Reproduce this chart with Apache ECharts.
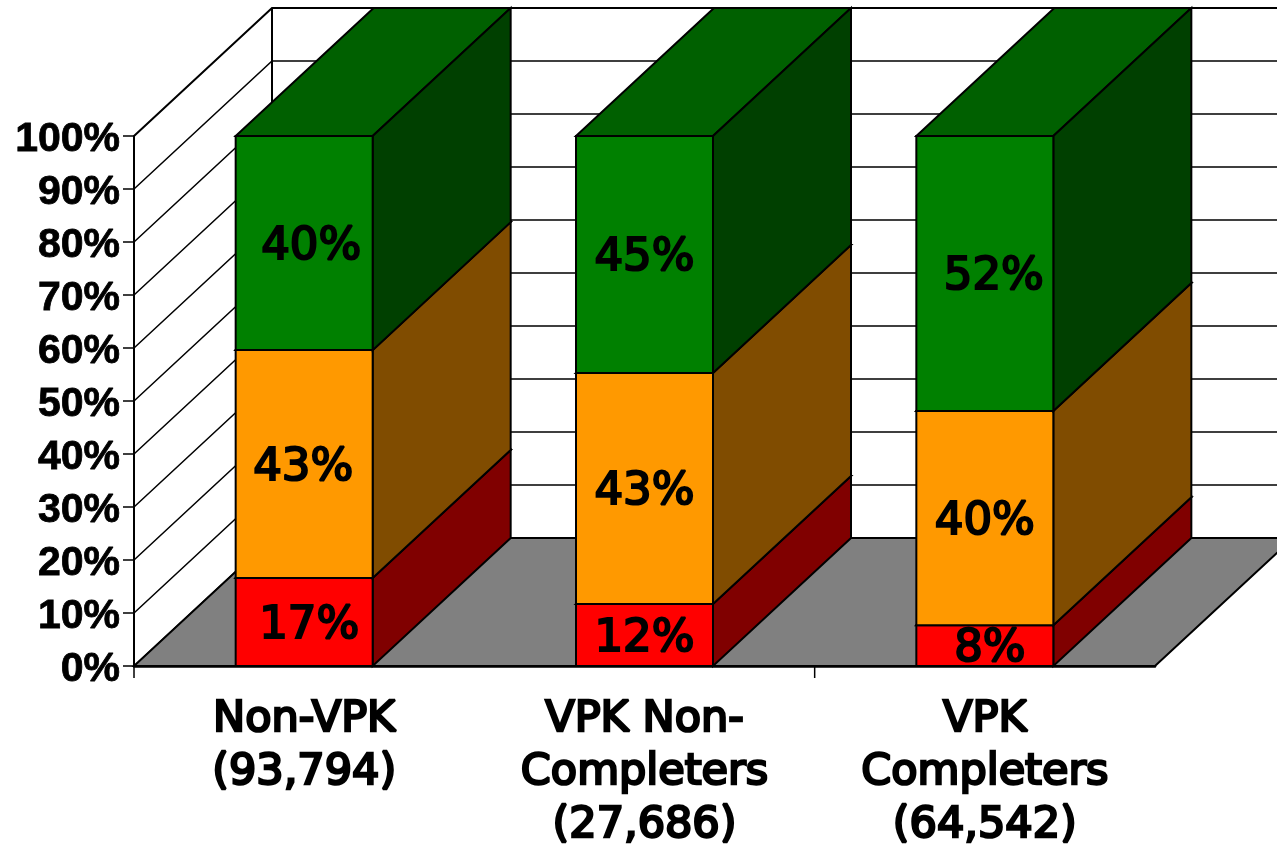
<!DOCTYPE html>
<html>
<head>
<meta charset="utf-8">
<style>
html, body { margin: 0; padding: 0; background: #fff; overflow: hidden; }
#chart { width: 1277px; height: 847px; }
</style>
<script src="https://cdn.jsdelivr.net/npm/echarts@6/dist/echarts.min.js"></script>
</head>
<body>
<div id="chart"></div>
<script>
// 数据
const categories = ['Non-VPK\n(93,794)', 'VPK Non-\nCompleters\n(27,686)', 'VPK\nCompleters\n(64,542)'];
const redValues = [16.6, 11.7, 7.7];
const orangeValues = [43, 43.6, 40.4];
const greenValues = [40.4, 44.7, 51.9];
const redLabels = ['17%', '12%', '8%'];
const orangeLabels = ['43%', '43%', '40%'];
const greenLabels = ['40%', '45%', '52%'];
const tickValues = [0, 10, 20, 30, 40, 50, 60, 70, 80, 90, 100];
const categoryTicks = [0, 2];

// 3D 外观
const DEPTH_X = 138;
const DEPTH_Y = -128;
const BAR_WIDTH = 137;
const labelNudge = [[5, -1, 7], [0, 0, 0], [5, 0, 9]];
const redFaces = { front: '#ff0000', side: '#800000', top: '#c00000' };
const orangeFaces = { front: '#ff9900', side: '#804c00', top: '#c07300' };
const greenFaces = { front: '#008000', side: '#004000', top: '#006000' };

const edge = { stroke: '#000', lineWidth: 2 };

function polygon(points, fill) {
    return { type: 'polygon', shape: { points }, style: { fill, ...edge } };
}

function back(p) {
    return [p[0] + DEPTH_X, p[1] + DEPTH_Y];
}

// 左墙 + 后墙网格线
function renderGridLine(params, api) {
    const a = api.coord([0, api.value(0)]);
    const left = [params.coordSys.x, a[1]];
    const corner = back(left);
    const right = [params.coordSys.x + params.coordSys.width + DEPTH_X, corner[1]];
    return {
        type: 'polyline',
        shape: { points: [left, corner, right] },
        style: { fill: 'none', stroke: '#000', lineWidth: api.value(0) === 100 ? 2 : 1.5 }
    };
}

// 地面
function renderFloor(params, api) {
    const cs = params.coordSys;
    const y0 = api.coord([0, 0])[1];
    const p1 = [cs.x, y0];
    const p2 = [cs.x + cs.width, y0];
    const top = api.coord([0, 100])[1];
    return {
        type: 'group',
        children: [
            polygon([p1, p2, back(p2), back(p1)], '#808080'),
            {
                type: 'line',
                shape: { x1: back(p1)[0], y1: back(p1)[1], x2: back(p1)[0], y2: top + DEPTH_Y },
                style: { stroke: '#000', lineWidth: 2 }
            }
        ]
    };
}

// 类别刻度：只画左边界和第三个类别的左边界
function renderCategoryTick(params, api) {
    const p = api.coord([api.value(0), 0]);
    const x = p[0] - api.size([1, 0])[0] / 2;
    return {
        type: 'line',
        shape: { x1: x, y1: p[1], x2: x, y2: p[1] + 12 },
        style: { stroke: '#000', lineWidth: 1.5 }
    };
}

function stackedBar(values, bases, labels, faces, order) {
    return {
        type: 'custom',
        coordinateSystem: 'cartesian2d',
        z: 5 + order,
        data: values.map((v, i) => [i, bases[i], bases[i] + v, labels[i]]),
        renderItem(params, api) {
            const i = api.value(0);
            const c = api.coord([i, api.value(2)]);
            const b = api.coord([i, api.value(1)]);
            const x0 = c[0] - BAR_WIDTH / 2;
            const x1 = c[0] + BAR_WIDTH / 2;
            const tl = [x0, c[1]];
            const tr = [x1, c[1]];
            const br = [x1, b[1]];
            const bl = [x0, b[1]];
            return {
                type: 'group',
                children: [
                    polygon([tl, tr, back(tr), back(tl)], faces.top),
                    polygon([tr, br, back(br), back(tr)], faces.side),
                    polygon([tl, tr, br, bl], faces.front),
                    {
                        type: 'text',
                        z2: 20,
                        style: {
                            text: labels[i],
                            x: c[0] + labelNudge[i][order],
                            y: (c[1] + b[1]) / 2 + 4,
                            align: 'center',
                            verticalAlign: 'middle',
                            font: '45px "DejaVu Sans"',
                            fill: '#000',
                            stroke: '#000',
                            lineWidth: 2.2
                        }
                    }
                ]
            };
        }
    };
}

const orangeBases = redValues;
const greenBases = redValues.map((v, i) => v + orangeValues[i]);
const zeros = redValues.map(() => 0);

const chart = echarts.init(document.getElementById('chart'), null, { renderer: 'canvas' });

chart.setOption({
    animation: false,
    backgroundColor: '#fff',
    grid: { left: 134, right: 122, top: 136, bottom: 181, containLabel: false, outerBoundsMode: 'none' },
    xAxis: {
        type: 'category',
        data: categories,
        z: 10,
        axisLine: { show: true, lineStyle: { color: '#000', width: 2.5 } },
        axisTick: { show: false },
        axisLabel: {
            interval: 0,
            margin: 27,
            color: '#000',
            fontFamily: '"DejaVu Sans"',
            fontSize: 43,
            lineHeight: 53,
            textBorderColor: '#000',
            textBorderWidth: 2.5
        }
    },
    yAxis: {
        type: 'value',
        min: 0,
        max: 100,
        interval: 10,
        z: 10,
        splitLine: { show: false },
        axisLine: { show: true, lineStyle: { color: '#000', width: 2 } },
        axisTick: { show: true, length: 11, lineStyle: { color: '#000', width: 1.5 } },
        axisLabel: {
            margin: 14,
            formatter: '{t|{value}%}',
            rich: {
                t: {
                    color: '#000',
                    fontFamily: '"Liberation Sans"',
                    fontWeight: 'bold',
                    fontSize: 41,
                    textBorderColor: '#000',
                    textBorderWidth: 0.8,
                    padding: [7, 0, 0, 0]
                }
            }
        }
    },
    series: [
        {
            type: 'custom',
            coordinateSystem: 'cartesian2d',
            z: 1,
            data: tickValues.map((v) => [v]),
            renderItem: renderGridLine
        },
        {
            type: 'custom',
            coordinateSystem: 'cartesian2d',
            z: 2,
            data: [[0]],
            renderItem: renderFloor
        },
        stackedBar(redValues, zeros, redLabels, redFaces, 0),
        stackedBar(orangeValues, orangeBases, orangeLabels, orangeFaces, 1),
        stackedBar(greenValues, greenBases, greenLabels, greenFaces, 2),
        {
            type: 'custom',
            coordinateSystem: 'cartesian2d',
            z: 9,
            data: categoryTicks.map((v) => [v]),
            renderItem: renderCategoryTick
        }
    ]
});
</script>
</body>
</html>
